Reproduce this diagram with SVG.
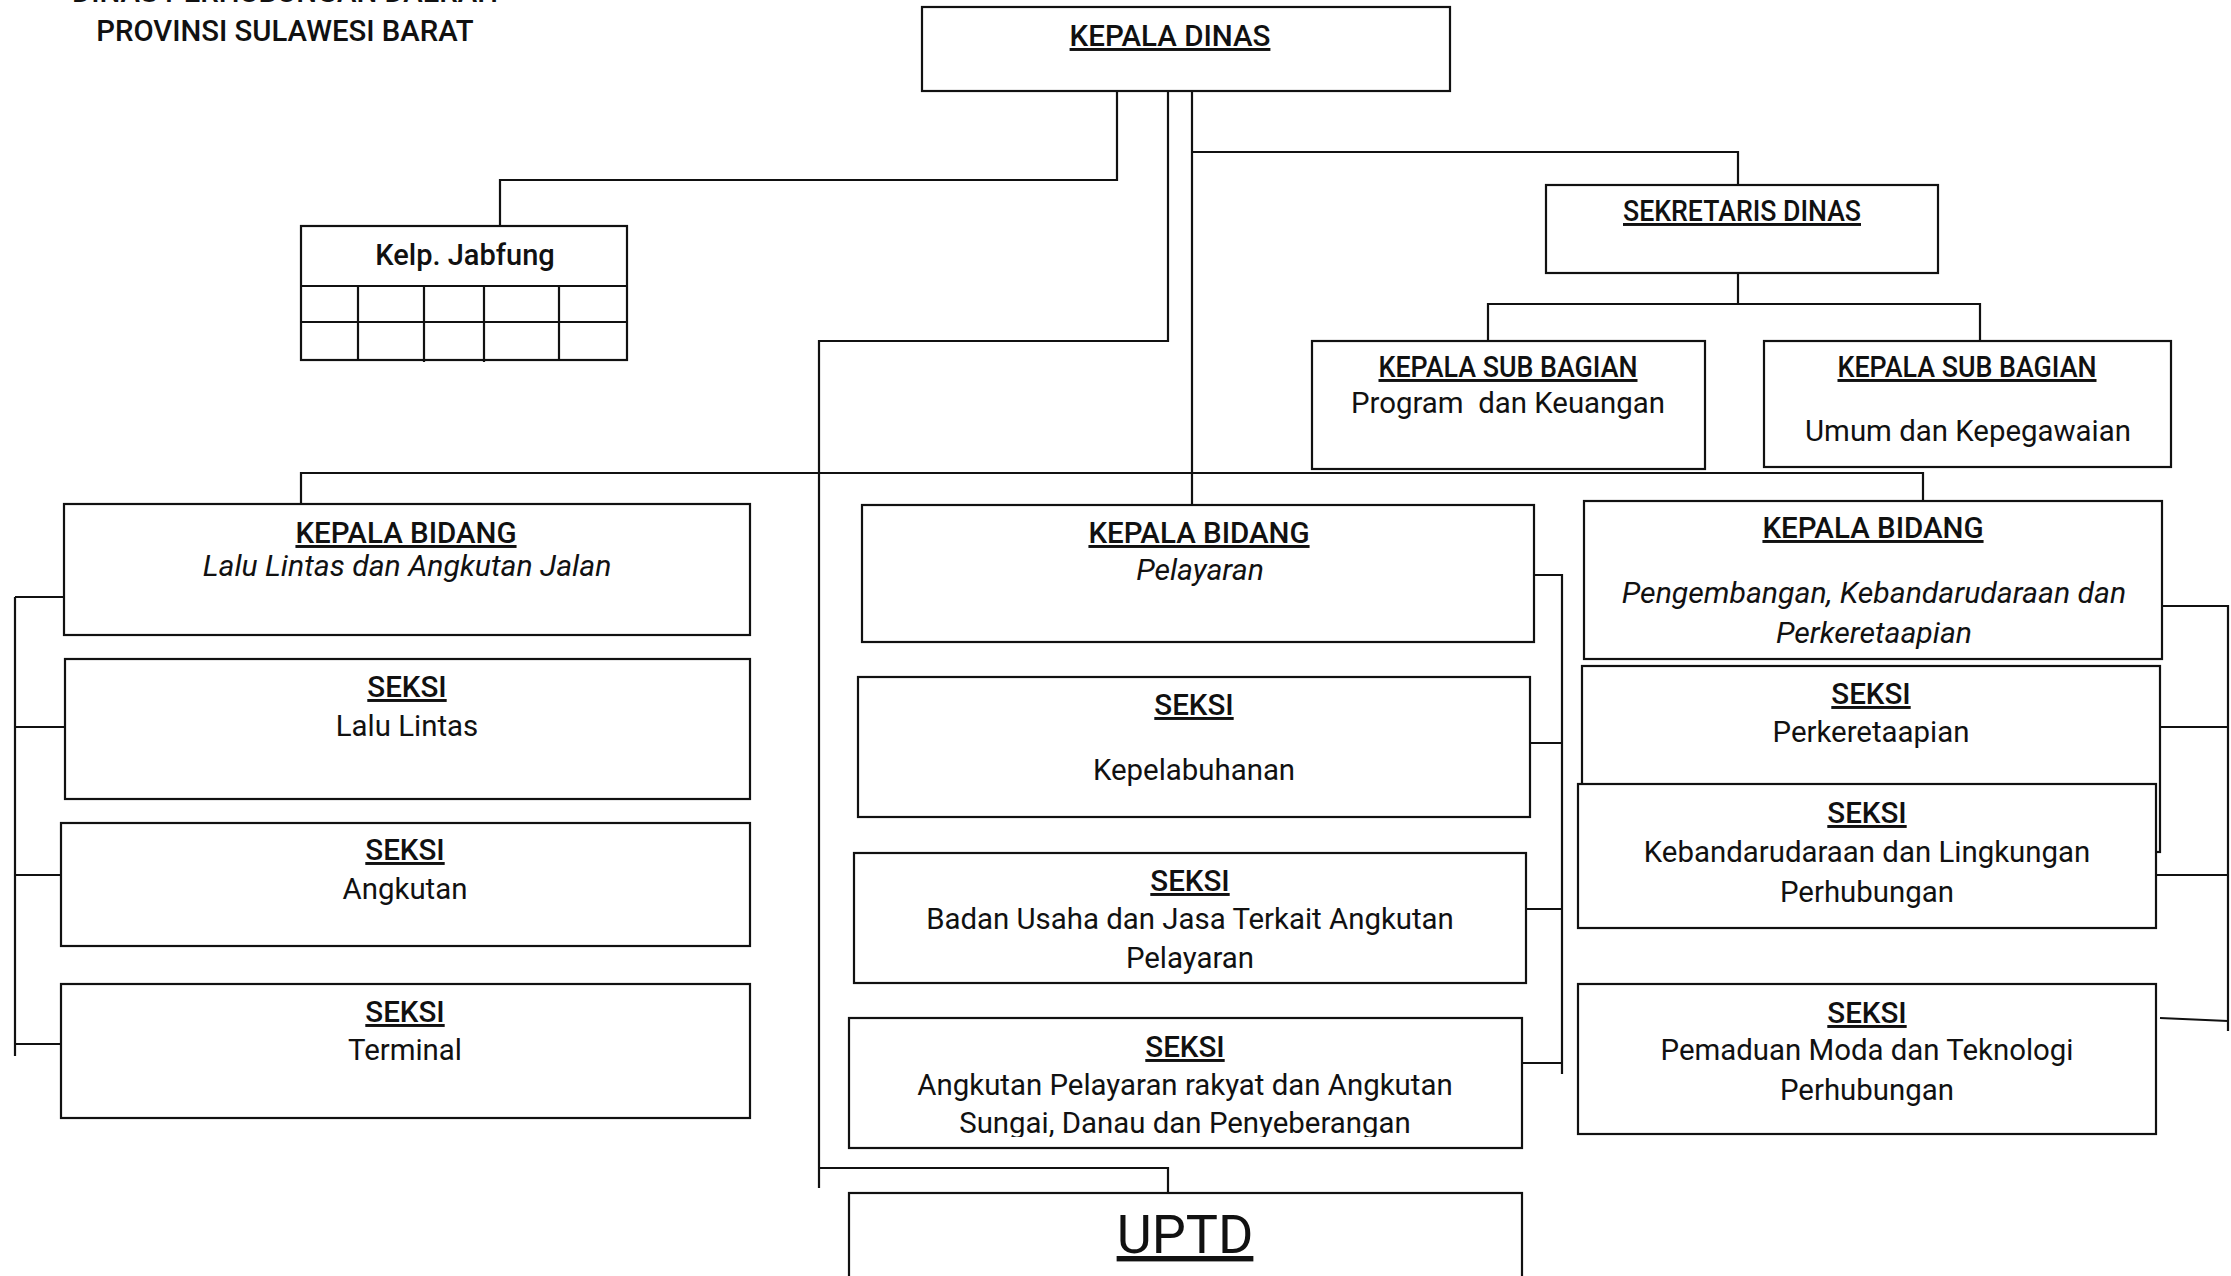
<svg xmlns="http://www.w3.org/2000/svg" width="2231" height="1276" viewBox="0 0 2231 1276">
<style>
.box{fill:#fff;stroke:#111;stroke-width:2.2}
.ln{fill:none;stroke:#111;stroke-width:2.2}
text{font-family:Roboto,"Liberation Sans",sans-serif;font-size:29.4px;fill:#111;text-anchor:middle}
.h{font-weight:500;font-size:29.5px;text-decoration:underline}
.it{font-style:italic;font-size:30.2px}
.ttl{font-weight:500;font-size:29.3px}
</style>
<defs>
<clipPath id="clipSAP"><rect x="849" y="1018" width="673" height="119"/></clipPath>
</defs>
<rect width="2231" height="1276" fill="#fff"/>
<g id="title">
<text class="ttl" x="285" y="2">DINAS PERHUBUNGAN DAERAH</text>
<text class="ttl" x="285" y="41">PROVINSI SULAWESI BARAT</text>
</g>
<g id="connectors">
<path class="ln" d="M500,226 V180 H1117 V91"/>
<path class="ln" d="M1168,91 V341 H819 V1188 M819,1168 H1168 V1193"/>
<path class="ln" d="M1192,91 V515 M1192,152 H1738 V185"/>
<path class="ln" d="M1738,273 V304 M1488,341 V304 H1980 V341"/>
<path class="ln" d="M301,504 V473 H1923 V501"/>
<path class="ln" d="M15,597 V1056 M15,597 H64 M15,727 H65 M15,875 H61 M15,1044 H61"/>
<path class="ln" d="M1534,575 H1562 V1074 M1530,743 H1562 M1526,909 H1562 M1522,1063 H1562"/>
<path class="ln" d="M2162,606 H2228 V1031 M2160,727 H2228 M2156,875 H2228 M2160,1018 L2228,1021"/>
</g>
<g id="kepala-dinas">
<rect class="box" x="922" y="7" width="528" height="84"/>
<text class="h" x="1170" y="46">KEPALA DINAS</text>
</g>
<g id="kelp-jabfung">
<rect class="box" x="301" y="226" width="326" height="134"/>
<path class="ln" d="M301,286 H627 M301,322 H627 M358,286 V360 M424,286 V362 M484,286 V362 M559,286 V360"/>
<text x="465" y="265" style="font-weight:500;font-size:29px">Kelp. Jabfung</text>
</g>
<g id="sekretaris">
<rect class="box" x="1546" y="185" width="392" height="88"/>
<text class="h" x="1742" y="221" textLength="238" lengthAdjust="spacingAndGlyphs">SEKRETARIS DINAS</text>
</g>
<g id="ksb-program">
<rect class="box" x="1312" y="341" width="393" height="128"/>
<text class="h" x="1508" y="377" textLength="259" lengthAdjust="spacingAndGlyphs">KEPALA SUB BAGIAN</text>
<text x="1508" y="413" style="white-space:pre">Program  dan Keuangan</text>
</g>
<g id="ksb-umum">
<rect class="box" x="1764" y="341" width="407" height="126"/>
<text class="h" x="1967" y="377" textLength="259" lengthAdjust="spacingAndGlyphs">KEPALA SUB BAGIAN</text>
<text x="1968" y="441">Umum dan Kepegawaian</text>
</g>
<g id="kb-llaj">
<rect class="box" x="64" y="504" width="686" height="131"/>
<text class="h" x="406" y="543">KEPALA BIDANG</text>
<text class="it" x="407" y="576">Lalu Lintas dan Angkutan Jalan</text>
</g>
<g id="seksi-lalu-lintas">
<rect class="box" x="65" y="659" width="685" height="140"/>
<text class="h" x="407" y="697">SEKSI</text>
<text x="407" y="736">Lalu Lintas</text>
</g>
<g id="seksi-angkutan">
<rect class="box" x="61" y="823" width="689" height="123"/>
<text class="h" x="405" y="860">SEKSI</text>
<text x="405" y="899">Angkutan</text>
</g>
<g id="seksi-terminal">
<rect class="box" x="61" y="984" width="689" height="134"/>
<text class="h" x="405" y="1022">SEKSI</text>
<text x="405" y="1060">Terminal</text>
</g>
<g id="kb-pelayaran">
<rect class="box" x="862" y="505" width="672" height="137"/>
<text class="h" x="1199" y="543">KEPALA BIDANG</text>
<text class="it" x="1200" y="580">Pelayaran</text>
</g>
<g id="seksi-kepelabuhanan">
<rect class="box" x="858" y="677" width="672" height="140"/>
<text class="h" x="1194" y="715">SEKSI</text>
<text x="1194" y="780">Kepelabuhanan</text>
</g>
<g id="seksi-badan-usaha">
<rect class="box" x="854" y="853" width="672" height="130"/>
<text class="h" x="1190" y="891">SEKSI</text>
<text x="1190" y="929">Badan Usaha dan Jasa Terkait Angkutan</text>
<text x="1190" y="968">Pelayaran</text>
</g>
<g id="seksi-angkutan-pelayaran">
<rect class="box" x="849" y="1018" width="673" height="130"/>
<text class="h" x="1185" y="1057">SEKSI</text>
<text x="1185" y="1095">Angkutan Pelayaran rakyat dan Angkutan</text>
<text x="1185" y="1133" clip-path="url(#clipSAP)">Sungai, Danau dan Penyeberangan</text>
</g>
<g id="uptd">
<rect class="box" x="849" y="1193" width="673" height="100"/>
<text x="1185" y="1253" style="font-size:54px;text-decoration:underline">UPTD</text>
</g>
<g id="kb-pengembangan">
<rect class="box" x="1584" y="501" width="578" height="158"/>
<text class="h" x="1873" y="538">KEPALA BIDANG</text>
<text class="it" x="1874" y="603">Pengembangan, Kebandarudaraan dan</text>
<text class="it" x="1874" y="643">Perkeretaapian</text>
</g>
<g id="seksi-perkeretaapian">
<rect class="box" x="1582" y="666" width="578" height="186"/>
<text class="h" x="1871" y="704">SEKSI</text>
<text x="1871" y="742">Perkeretaapian</text>
</g>
<g id="seksi-kebandarudaraan">
<rect class="box" x="1578" y="784" width="578" height="144"/>
<text class="h" x="1867" y="823">SEKSI</text>
<text x="1867" y="862">Kebandarudaraan dan Lingkungan</text>
<text x="1867" y="902">Perhubungan</text>
</g>
<g id="seksi-pemaduan">
<rect class="box" x="1578" y="984" width="578" height="150"/>
<text class="h" x="1867" y="1023">SEKSI</text>
<text x="1867" y="1060">Pemaduan Moda dan Teknologi</text>
<text x="1867" y="1100">Perhubungan</text>
</g>
</svg>
